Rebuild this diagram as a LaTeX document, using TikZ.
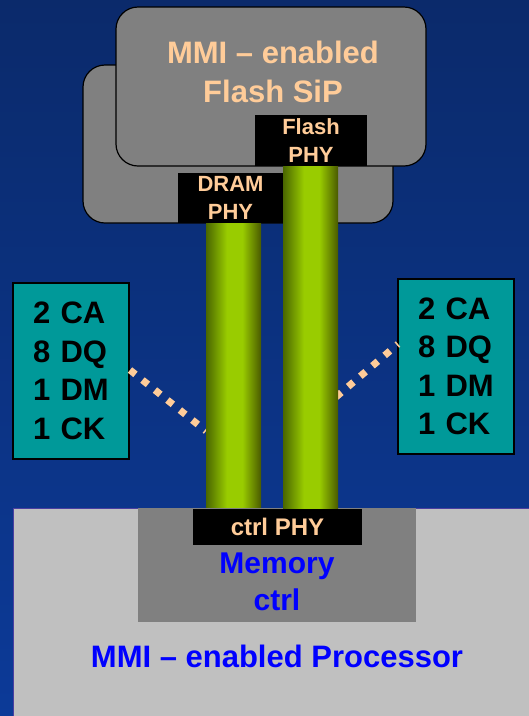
\documentclass[tikz,border=0pt]{standalone}
\usepackage{fontspec}
\setmainfont{Liberation Sans}
\usetikzlibrary{calc}
\definecolor{bgtop}{HTML}{0B2A6B}
\definecolor{bgbot}{HTML}{0C3A98}
\definecolor{pkggray}{HTML}{808080}
\definecolor{peach}{HTML}{FFCC99}
\definecolor{tealbox}{HTML}{009999}
\definecolor{procgray}{HTML}{C0C0C0}
\definecolor{procedge}{HTML}{4B3FA0}
\definecolor{pilA}{HTML}{4A6600}
\definecolor{pilB}{HTML}{99CC00}
\definecolor{pilC}{HTML}{4A5A00}
\pgfdeclarehorizontalshading{pillar}{100bp}{color(0bp)=(pilA); color(25bp)=(pilA); color(44bp)=(pilB); color(58bp)=(pilB); color(75bp)=(pilC); color(100bp)=(pilC)}
\tikzset{
  pkg/.style={draw=black, line width=1.2pt, fill=pkggray, rounded corners=22pt, minimum width=310pt, minimum height=158pt, inner sep=0pt},
  phybox/.style={fill=black, text=peach, font=\bfseries\fontsize{22}{28}\selectfont, align=center, inner sep=0pt},
  pillarbar/.style={shading=pillar, minimum width=55pt, inner sep=0pt},
  sigbox/.style={draw=black, line width=1.2pt, fill=tealbox, text=black, font=\bfseries\fontsize{31}{38.5}\selectfont, align=left, text width=76pt, inner xsep=20pt, inner ysep=0pt, minimum width=116pt, minimum height=176pt},
  dotline/.style={draw=peach, line width=7pt, dash pattern=on 7pt off 9pt},
  bluetext/.style={text=blue, font=\bfseries\fontsize{30}{37}\selectfont, align=center, inner sep=0pt}
}
\begin{document}
\begin{tikzpicture}[x=1pt,y=-1pt]
\useasboundingbox (0,0) rectangle (529,716);
\clip (0,0) rectangle (529,716);
\shade[top color=bgtop, bottom color=bgbot] (0,0) rectangle (529,716);
% packages
\node[pkg] (dram) at (238,144) {};
\node[pkg, minimum height=159pt] (flash) at (271,86.5) {};
\node[text=peach, font=\bfseries\fontsize{31}{39}\selectfont, align=center, inner sep=0pt] (flashtitle) at (273,72) {MMI -- enabled\\Flash SiP};
% signal boxes
\node[sigbox] (lsig) at (71,371) {2 CA\\8 DQ\\1 DM\\1 CK};
\node[sigbox, minimum height=175pt] (rsig) at (456,366.5) {2 CA\\8 DQ\\1 DM\\1 CK};
% dotted links (behind pillars)
\coordinate (lend) at (206,431);
\coordinate (lstart) at (130,370);
\coordinate (rstart) at (336,397);
\coordinate (rend) at (398,344);
\draw[dotline] (lstart) -- (lend);
\draw[dotline] (rstart) -- (rend);
% processor
\node[draw=procedge, line width=1pt, fill=procgray, minimum width=530pt, minimum height=230pt, inner sep=0pt] (proc) at (278,623) {};
\node[fill=pkggray, minimum width=278pt, minimum height=114pt, inner sep=0pt] (memctrl) at (277,565) {};
\node[bluetext] (memtext) at (277,582) {Memory\\ctrl};
\node[bluetext, font=\bfseries\fontsize{31}{37}\selectfont] (proctext) at (277,656) {MMI -- enabled Processor};
% PHYs and pillars
\node[phybox, minimum width=105pt, minimum height=50pt] (dramphy) at (230.5,198) {DRAM\\PHY};
\node[pillarbar, minimum height=284pt] (dpillar) at (233.5,365) {};
\node[phybox, minimum width=112pt, minimum height=51pt] (flashphy) at (311,140.5) {Flash\\PHY};
\node[pillarbar, minimum height=343pt] (fpillar) at (310.5,337.5) {};
\node[phybox, font=\bfseries\fontsize{24}{28}\selectfont, minimum width=169pt, minimum height=36pt] (ctrlphy) at (277.5,527) {ctrl PHY};
\end{tikzpicture}
\end{document}
